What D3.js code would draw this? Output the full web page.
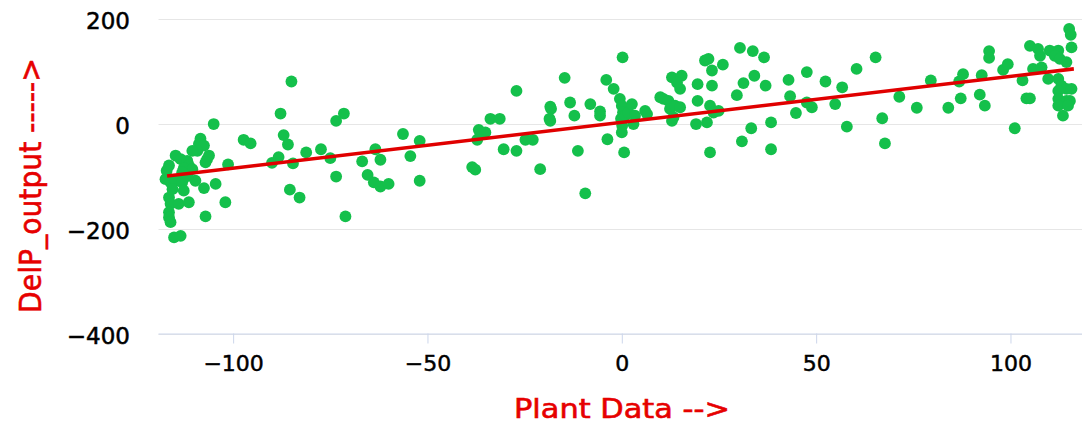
<!DOCTYPE html>
<html>
<head>
<meta charset="utf-8">
<script src="https://cdn.jsdelivr.net/npm/d3@7"></script>
<style>
  html, body { margin: 0; padding: 0; background: #fff; }
  svg { display: block; font-family: "DejaVu Sans", sans-serif; }
</style>
</head>
<body>
<div id="chart"></div>
<script>
// Scatter points (x = Plant Data, y = DelP_output)
const plantX = [
  -105,-108.4,-108.8,-107.5,-109.2,-110.5,-114.8,-113.5,-111.8,-111.4,-106.7,-106.2,-107.1,-116.5,-101.3,-112.7,-110.5,-113.1,
  -117.4,-116.1,-114.8,-113.1,-109.7,-107.5,-104.5,-112.7,-116.5,-116.1,-114,-111.4,-102,-116.5,-116.5,-116.1,-107.1,-115.2,-113.5,
  -115.6,-111.7,-117.1,
  -85,-87.8,-71.5,-73.5,-97.3,-95.5,-87,-85.9,-88.3,-90,-84.6,-81.2,-77.4,-75,-73.5,-85.4,-82.9,-71.1,-66.8,-63.4,-62.1,-65.4,-63.8,-62.1,-60,
  -56.3,-52,-54.4,-52,-38.5,-37.7,-36.8,-36.4,-35.1,-37.2,-33.8,-31.4,-30.4,-27.1,-27.1,-24.8,-22.9,-21,-18.4,-18.2,-18.6,-18.4,
  -14.7,-13.3,-12.2,-11.3,-9.4,-8.1,-5.6,-5.6,-4,-2.1,-3.7,
  0.2,-0.5,0,0.3,-0.2,0.1,0,0.9,1.7,2.6,3.4,3,6,6.5,0.6,
  9.9,10.7,12,12.4,13.7,15,12.9,13.3,12.9,15.4,15,14.2,19.1,19.5,19.5,21.4,22.3,23.2,23.2,26,22.7,23.6,24.9,21.9,22.7,
  30.4,33.7,36.6,29.6,31.3,34.1,37,30.9,33.3,38.4,38.4,42.9,43.3,44.8,47.6,47.6,48.9,52.4,54.9,56.7,57.9,
  60.4,65.3,67,67.7,71.4,75.9,79.5,84,86.8,87.8,87.2,92.1,93.4,92.6,94.5,94.5,98.1,99.3,101.1,103.1,104.1,105,
  105,107.1,107.6,105.8,108,109.7,110.1,112.3,111.4,112.7,114.4,112.3,113.1,114.4,115.7,112.3,112.3,114.4,115.3,112.3,114.8,113.5,
  115.1,115.5,115.7
];
const delPOutput = [
  -1,-29,-39,-42,-52,-52,-61,-68,-71,-80,-68,-61,-74,-80,-78,-85,-87,-93,
  -106,-112,-109,-112,-109,-123,-115,-128,-141,-153,-153,-150,-150,-169,-179,-188,-177,-217,-214,
  -125,-100,-90,
  80,19,19,5,-31,-38,-22,-40,-64,-75,-76,-55,-49,-66,-101,-126,-141,-177,-72,-49,-69,-98,-112,-120,-115,
  -20,-33,-62,-109,-83,-88,-12,-20,-17,-31,9,9,-49,-52,62,-31,-31,-87,32,28,9,5,
  87,40,15,-52,-133,37,23,15,83,66,-30,
  126,47,34,21,9,-4,-17,15,21,37,15,-1,24,18,-55,
  50,47,43,28,34,31,5,12,88,91,66,78,-1,75,43,120,123,101,72,112,34,21,24,2,-55,
  144,138,126,54,77,91,72,-34,-9,2,-49,83,52,20,98,40,31,80,37,69,-6,
  104,126,10,-38,51,30,82,30,80,94,48,55,34,92,138,125,102,113,-9,82,48,48,
  148,142,129,104,107,85,139,139,129,123,117,85,72,66,66,62,47,43,43,34,34,15,
  180,169,145
];
// Regression line end points
const trendX = [-117, 116.3];
const trendY = [-100, 104];
// Axis ticks
const xTicks = [-100, -50, 0, 50, 100];
const yTicks = [-400, -200, 0, 200];
const xTitle = "Plant Data -->";
const yTitle = "DelP_output ----->";

const W = 1086, H = 427;
const plotLeft = 158.5, plotRight = 1082, plotTop = 18.5, plotBottom = 333.5;

const svg = d3.select("#chart").append("svg").attr("width", W).attr("height", H);

const x = d3.scaleLinear().domain([-119.2, 118.4]).range([plotLeft, plotRight]);
const y = d3.scaleLinear().domain([-400, 200]).range([plotBottom, plotTop]);

// gridlines
svg.append("g").selectAll("line").data(yTicks).join("line")
  .attr("x1", plotLeft).attr("x2", plotRight)
  .attr("y1", d => Math.round(y(d)) + 0.5).attr("y2", d => Math.round(y(d)) + 0.5)
  .attr("stroke", "#e6e6e6").attr("stroke-width", 1);

// y axis labels
const yAxis = d3.axisLeft(y).tickValues(yTicks).tickSize(0).tickPadding(0)
  .tickFormat(d => d < 0 ? "\u2212" + Math.abs(d) : String(d));
const gy = svg.append("g").attr("transform", `translate(130,0)`).call(yAxis);
gy.select(".domain").remove();
gy.selectAll("text").attr("font-size", 23).attr("font-family", "DejaVu Sans")
  .attr("fill", "#000").attr("stroke", "#000").attr("stroke-width", 0.5).attr("dy", "0.42em");

// x axis
const xAxis = d3.axisBottom(x).tickValues(xTicks).tickSize(10).tickPadding(12)
  .tickFormat(d => d < 0 ? "\u2212" + Math.abs(d) : String(d));
const gx = svg.append("g").attr("transform", `translate(0,${plotBottom})`).call(xAxis);
gx.select(".domain").attr("stroke", "#ccd6eb").attr("d", `M${plotLeft},0.5H${plotRight}`);
gx.selectAll(".tick line").attr("stroke", "#ccd6eb");
gx.selectAll("text").attr("font-size", 22).attr("font-family", "DejaVu Sans")
  .attr("fill", "#000").attr("stroke", "#000").attr("stroke-width", 0.5);

// points
const pts = plantX.map((v, i) => ({x: v, y: delPOutput[i]}));
svg.append("g").selectAll("circle").data(pts).join("circle")
  .attr("cx", d => x(d.x)).attr("cy", d => y(d.y)).attr("r", 5.9)
  .attr("fill", "#14c04b");

// regression line
const trend = trendX.map((v, i) => [v, trendY[i]]);
svg.append("path").datum(trend)
  .attr("d", d3.line().x(d => x(d[0])).y(d => y(d[1])))
  .attr("fill", "none").attr("stroke", "#e00000").attr("stroke-width", 3.6);

// titles
svg.append("text").attr("x", 622).attr("y", 418).attr("text-anchor", "middle")
  .attr("font-size", 26).attr("fill", "#e60000").attr("stroke", "#e60000").attr("stroke-width", 0.6)
  .attr("textLength", 216).attr("lengthAdjust", "spacingAndGlyphs")
  .text(xTitle);
svg.append("text").attr("transform", "translate(41,185.5) rotate(-90)")
  .attr("text-anchor", "middle").attr("font-size", 31).attr("fill", "#e60000")
  .attr("stroke", "#e60000").attr("stroke-width", 0.6)
  .attr("textLength", 255).attr("lengthAdjust", "spacingAndGlyphs")
  .text(yTitle);
</script>
</body>
</html>
